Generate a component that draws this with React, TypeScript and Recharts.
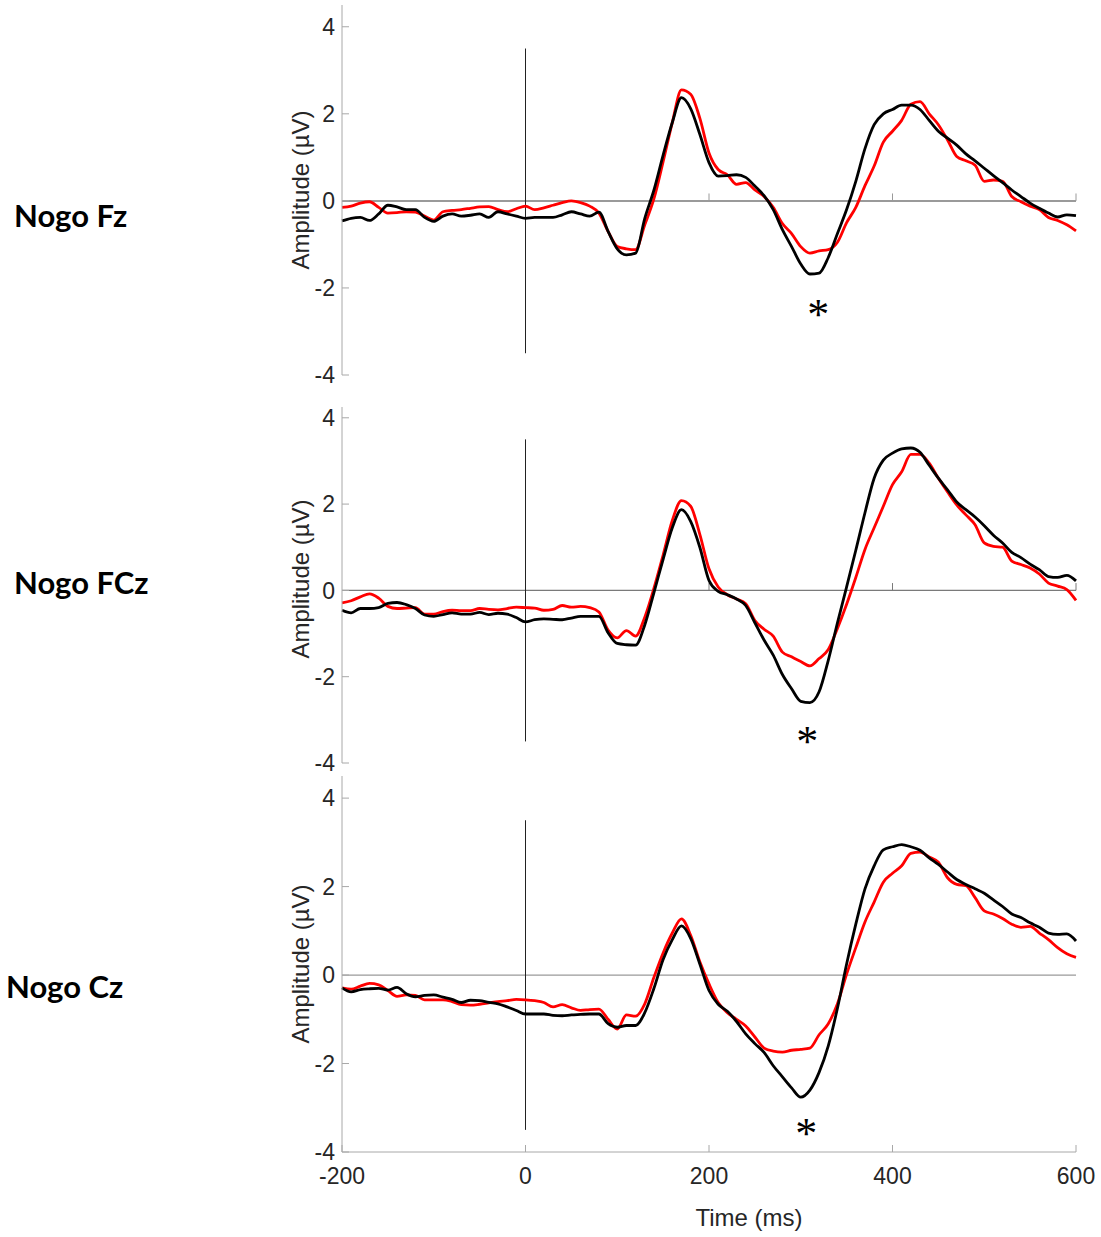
import React from "react";
import {
  LineChart,
  Line,
  XAxis,
  YAxis,
  ReferenceLine,
  ReferenceDot,
  Label,
} from "recharts";

// time base, ms (10 ms steps)
const times = [
  -200, -190, -180, -170, -160, -150, -140, -130, -120, -110, -100, -90, -80,
  -70, -60, -50, -40, -30, -20, -10, 0, 10, 20, 30, 40, 50, 60, 70, 80, 90,
  100, 110, 120, 130, 140, 150, 160, 170, 180, 190, 200, 210, 220, 230, 240,
  250, 260, 270, 280, 290, 300, 310, 320, 330, 340, 350, 360, 370, 380, 390,
  400, 410, 420, 430, 440, 450, 460, 470, 480, 490, 500, 510, 520, 530, 540,
  550, 560, 570, 580, 590, 600,
];

// Nogo Fz
const fzRed = [
  -0.15, -0.12, -0.05, -0.02, -0.15, -0.28, -0.27, -0.25, -0.26, -0.35, -0.44,
  -0.25, -0.22, -0.2, -0.17, -0.14, -0.13, -0.2, -0.25, -0.18, -0.12, -0.2,
  -0.16, -0.1, -0.04, 0, -0.04, -0.12, -0.28, -0.7, -1.05, -1.1, -1.12, -0.55,
  0.05, 0.9, 1.8, 2.55, 2.45, 1.9, 1.1, 0.72, 0.6, 0.38, 0.42, 0.25, 0.1,
  -0.15, -0.52, -0.75, -1.05, -1.2, -1.15, -1.12, -0.95, -0.5, -0.15, 0.35,
  0.8, 1.35, 1.6, 1.85, 2.22, 2.28, 2.0, 1.75, 1.4, 1.02, 0.92, 0.82, 0.45,
  0.48, 0.45, 0.1, -0.02, -0.12, -0.2, -0.38, -0.45, -0.55, -0.69,
];
const fzBlack = [
  -0.46, -0.4, -0.38, -0.45, -0.3, -0.1, -0.14, -0.2, -0.2, -0.38, -0.47,
  -0.35, -0.3, -0.35, -0.33, -0.3, -0.38, -0.25, -0.3, -0.35, -0.4, -0.38,
  -0.38, -0.38, -0.32, -0.25, -0.3, -0.35, -0.26, -0.7, -1.1, -1.24, -1.2,
  -0.4, 0.25, 1.05, 1.8, 2.37, 2.12, 1.53, 0.88, 0.57, 0.58, 0.6, 0.54, 0.34,
  0.12, -0.2, -0.66, -1.05, -1.45, -1.68, -1.66, -1.3, -0.75, -0.2, 0.45, 1.2,
  1.75, 2.0, 2.1, 2.2, 2.2, 2.1, 1.85, 1.6, 1.44, 1.28, 1.08, 0.92, 0.75,
  0.58, 0.42, 0.25, 0.1, -0.05, -0.17, -0.28, -0.37, -0.32, -0.34,
];

// Nogo FCz
const fczRed = [
  -0.29, -0.24, -0.15, -0.08, -0.18, -0.37, -0.42, -0.41, -0.4, -0.55, -0.55,
  -0.49, -0.46, -0.47, -0.47, -0.42, -0.44, -0.45, -0.42, -0.39, -0.4, -0.41,
  -0.46, -0.44, -0.35, -0.39, -0.37, -0.4, -0.5, -0.92, -1.1, -0.93, -1.06,
  -0.62, 0.05, 0.82, 1.62, 2.08, 1.95, 1.3, 0.5, 0.08, -0.1, -0.2, -0.31,
  -0.7, -0.9, -1.06, -1.43, -1.54, -1.65, -1.75, -1.58, -1.37, -0.88, -0.32,
  0.3, 0.95, 1.45, 1.95, 2.45, 2.75, 3.15, 3.15, 2.95, 2.6, 2.28, 1.98, 1.75,
  1.52, 1.1, 1.02, 1.0, 0.68, 0.6, 0.52, 0.38, 0.17, 0.1, 0.02, -0.23,
];
const fczBlack = [
  -0.46, -0.52, -0.42, -0.42, -0.4, -0.3, -0.28, -0.33, -0.42, -0.57, -0.6,
  -0.56, -0.52, -0.55, -0.55, -0.51, -0.56, -0.53, -0.55, -0.63, -0.73,
  -0.68, -0.66, -0.67, -0.68, -0.64, -0.6, -0.6, -0.6, -0.98, -1.23, -1.26,
  -1.27, -0.8, -0.05, 0.72, 1.45, 1.87, 1.6, 1.0, 0.23, -0.02, -0.1, -0.2,
  -0.35, -0.75, -1.15, -1.5, -1.95, -2.28, -2.57, -2.6, -2.35, -1.62, -0.75,
  0.08, 0.93, 1.8, 2.6, 3.02, 3.18, 3.28, 3.3, 3.2, 2.9, 2.6, 2.33, 2.05,
  1.87, 1.7, 1.5, 1.28, 1.1, 0.88, 0.76, 0.61, 0.48, 0.32, 0.3, 0.35, 0.22,
];

// Nogo Cz
const czRed = [
  -0.29, -0.32, -0.25, -0.19, -0.22, -0.35, -0.48, -0.45, -0.46, -0.56,
  -0.56, -0.56, -0.6, -0.67, -0.68, -0.66, -0.63, -0.6, -0.58, -0.55, -0.56,
  -0.58, -0.62, -0.72, -0.67, -0.74, -0.8, -0.78, -0.77, -1.0, -1.22, -0.9,
  -0.93, -0.65, -0.05, 0.5, 0.95, 1.27, 0.9, 0.3, -0.2, -0.62, -0.85, -1.0,
  -1.15, -1.4, -1.65, -1.72, -1.74, -1.7, -1.68, -1.65, -1.35, -1.1, -0.65,
  0.02, 0.62, 1.2, 1.65, 2.1, 2.3, 2.47, 2.75, 2.78, 2.67, 2.55, 2.2, 2.05,
  2.02, 1.75, 1.45, 1.38, 1.28, 1.15, 1.08, 1.1, 0.95, 0.8, 0.62, 0.48, 0.4,
];
const czBlack = [
  -0.29, -0.38, -0.33, -0.31, -0.3, -0.34, -0.28, -0.42, -0.49, -0.46,
  -0.45, -0.5, -0.55, -0.62, -0.57, -0.58, -0.62, -0.65, -0.72, -0.8, -0.88,
  -0.88, -0.88, -0.91, -0.92, -0.9, -0.89, -0.88, -0.88, -1.1, -1.18, -1.14,
  -1.14, -0.85, -0.3, 0.35, 0.8, 1.11, 0.83, 0.25, -0.35, -0.66, -0.82,
  -1.05, -1.33, -1.55, -1.75, -2.05, -2.3, -2.55, -2.76, -2.6, -2.2, -1.6,
  -0.75, 0.25, 1.15, 1.95, 2.47, 2.83, 2.9, 2.95, 2.9, 2.82, 2.65, 2.5, 2.33,
  2.16, 2.05, 1.95, 1.85, 1.7, 1.55, 1.38, 1.3, 1.18, 1.08, 0.95, 0.92, 0.93,
  0.77,
];

const xTicks = [-200, 0, 200, 400, 600];
const yTicks = [-4, -2, 0, 2, 4];
const panelNames = ["Nogo Fz", "Nogo FCz", "Nogo Cz"];
// where the significance star sits: [time, amplitude]
const starPoints = [
  [319, -2.48],
  [307, -3.38],
  [306, -3.46],
];

const fontFamily = "'Liberation Sans', Arial, sans-serif";
const fontColor = "#262626";
const axisColor = "#a8a8a8";
const fontSize = 23;
const labelSize = 24;

const YTick = (props: any) => {
  const { x, y, payload } = props;
  return (
    <g>
      <line x1={x + 7} x2={x + 14} y1={y} y2={y} stroke={axisColor} />
      <text
        x={x}
        y={y}
        dy="0.36em"
        textAnchor="end"
        fill={fontColor}
        fontSize={fontSize}
        fontFamily={fontFamily}
      >
        {payload.value}
      </text>
    </g>
  );
};

const XTick = (props: any) => {
  const { x, y, payload } = props;
  return (
    <g>
      <line x1={x} x2={x} y1={y - 16} y2={y - 23} stroke={axisColor} />
      <text
        x={x}
        y={y}
        dy="0.71em"
        textAnchor="middle"
        fill={fontColor}
        fontSize={fontSize}
        fontFamily={fontFamily}
      >
        {payload.value}
      </text>
    </g>
  );
};

const Star = (props: any) => (
  <text
    x={props.cx}
    y={props.cy + 20}
    textAnchor="middle"
    fontSize={44}
    fontFamily="'Liberation Serif', 'DejaVu Serif', serif"
    fill="#000"
  >
    *
  </text>
);

const panels = [
  { red: fzRed, black: fzBlack },
  { red: fczRed, black: fczBlack },
  { red: czRed, black: czBlack },
];

const layout = [
  { top: 0, height: 395, bottom: 20, yMax: 4.5, zeroColor: "#9a9a9a", zeroWidth: 2, labelTop: 200, labelLeft: 14, labelDy: 0 },
  { top: 402, height: 381, bottom: 20, yMax: 4.25, zeroColor: "#7a7a7a", zeroWidth: 1.2, labelTop: 567, labelLeft: 14, labelDy: -6 },
  { top: 771, height: 466, bottom: 5, yMax: 4.5, zeroColor: "#9a9a9a", zeroWidth: 1.2, labelTop: 971, labelLeft: 6, labelDy: 0 },
];

const Panel = ({ idx }: { idx: number }) => {
  const { red, black } = panels[idx];
  const lay = layout[idx];
  const rows = times.map((t, i) => ({ t, red: red[i], black: black[i] }));
  const isLast = idx === 2;
  const [sx, sy] = starPoints[idx];
  return (
    <div style={{ position: "absolute", left: 0, top: lay.top }}>
      <LineChart
        width={1101}
        height={lay.height}
        data={rows}
        margin={{ top: 5, right: 25, bottom: lay.bottom, left: 282 }}
      >
        <XAxis
          dataKey="t"
          type="number"
          domain={[-200, 600]}
          ticks={xTicks}
          hide={!isLast}
          height={80}
          stroke={axisColor}
          tickSize={0}
          tickMargin={16}
          tickLine={false}
          tick={<XTick />}
          interval={0}
        >
          {isLast && (
            <Label
              value="Time (ms)"
              position="insideBottom"
              offset={6}
              dx={40}
              fill={fontColor}
              fontSize={labelSize}
              fontFamily={fontFamily}
            />
          )}
        </XAxis>
        <YAxis
          type="number"
          domain={[-4, lay.yMax]}
          ticks={yTicks}
          width={60}
          stroke={axisColor}
          tickSize={0}
          tickMargin={7}
          tickLine={false}
          tick={<YTick />}
          interval={0}
          allowDataOverflow
        >
          <Label
            value="Amplitude (µV)"
            angle={-90}
            position="insideLeft"
            offset={18}
            dy={lay.labelDy}
            fill={fontColor}
            fontSize={labelSize}
            fontFamily={fontFamily}
            style={{ textAnchor: "middle" }}
          />
        </YAxis>
        <ReferenceLine y={0} stroke={lay.zeroColor} strokeWidth={lay.zeroWidth} />
        {!isLast &&
          xTicks.slice(2).map((v) => (
            <ReferenceLine
              key={v}
              segment={[
                { x: v, y: 0 },
                { x: v, y: 0.17 },
              ]}
              stroke={lay.zeroColor}
            />
          ))}
        <ReferenceLine
          segment={[
            { x: 0, y: -3.5 },
            { x: 0, y: 3.5 },
          ]}
          stroke="#222"
          strokeWidth={1}
        />
        <Line
          type="monotone"
          dataKey="red"
          stroke="#ff0000"
          strokeWidth={2.8}
          dot={false}
          isAnimationActive={false}
        />
        <Line
          type="monotone"
          dataKey="black"
          stroke="#000"
          strokeWidth={2.8}
          dot={false}
          isAnimationActive={false}
        />
        <ReferenceDot x={sx} y={sy} r={0} shape={<Star />} />
      </LineChart>
      <div
        style={{
          position: "absolute",
          left: lay.labelLeft,
          top: lay.labelTop - lay.top,
          fontFamily: "Lato, 'Open Sans', sans-serif",
          fontWeight: 700,
          fontSize: 31,
          color: "#000",
          whiteSpace: "nowrap",
          lineHeight: 1,
        }}
      >
        {panelNames[idx]}
      </div>
    </div>
  );
};

export default function App() {
  return (
    <div
      style={{
        position: "absolute",
        left: 0,
        top: 0,
        width: 1101,
        height: 1237,
        background: "#fff",
      }}
    >
      <Panel idx={0} />
      <Panel idx={1} />
      <Panel idx={2} />
    </div>
  );
}
